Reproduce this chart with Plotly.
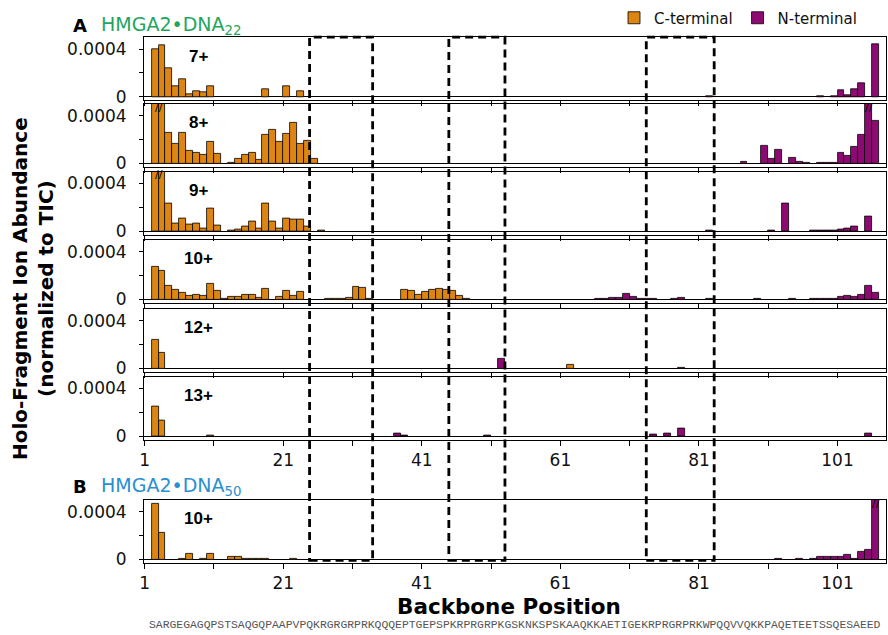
import plotly.graph_objects as go

OFF = 0
W, H = 888, 635

# ---------------- data (abundance normalized to TIC) ----------------
CLIP = 6.5e-4  # off-scale bars (drawn with break marks)

panel_names = ["7+", "8+", "9+", "10+", "12+", "13+", "10+"]

c7_pos = [2, 3, 4, 5, 6, 7, 8, 9, 10, 18, 21, 23]
c7_val = [4.0e-4, 4.3e-4, 2.4e-4, 0.9e-4, 1.5e-4, 0.2e-4, 0.45e-4, 0.35e-4, 0.9e-4, 0.6e-4, 0.9e-4, 0.47e-4]
n7_pos = [82, 98, 100, 101, 102, 103, 104, 106]
n7_val = [0.03e-4, 0.04e-4, 0.04e-4, 0.56e-4, 0.1e-4, 0.67e-4, 1.1e-4, 4.4e-4]

c8_pos = [2, 3, 4, 5, 6, 7, 8, 9, 10, 11, 13, 14, 15, 16, 17, 18, 19, 20, 21, 22, 23, 24, 25]
c8_val = [CLIP, CLIP, 2.55e-4, 1.67e-4, 2.6e-4, 1.05e-4, 0.9e-4, 0.7e-4, 1.8e-4, 0.83e-4,
          0.05e-4, 0.39e-4, 0.75e-4, 0.9e-4, 0.33e-4, 2.4e-4, 2.8e-4, 1.8e-4, 2.45e-4, 3.4e-4,
          1.64e-4, 1.86e-4, 0.39e-4]
n8_pos = [87, 90, 91, 92, 94, 95, 96, 98, 99, 100, 101, 102, 103, 104, 105, 106]
n8_val = [0.1e-4, 1.5e-4, 0.42e-4, 1.1e-4, 0.47e-4, 0.14e-4, 0.03e-4, 0.08e-4, 0.08e-4, 0.08e-4,
          0.92e-4, 0.64e-4, 1.4e-4, 2.36e-4, CLIP, 3.55e-4]

c9_pos = [2, 3, 4, 5, 6, 7, 8, 9, 10, 11, 13, 14, 15, 16, 17, 18, 19, 20, 21, 22, 23, 24, 26]
c9_val = [CLIP, CLIP, 2.3e-4, 0.64e-4, 1.05e-4, 0.56e-4, 0.64e-4, 0.25e-4, 1.86e-4, 0.5e-4,
          0.03e-4, 0.14e-4, 0.42e-4, 0.8e-4, 0.22e-4, 2.3e-4, 0.83e-4, 0.22e-4, 1.05e-4, 0.94e-4,
          1.0e-4, 0.39e-4, 0.03e-4]
n9_pos = [82, 91, 93, 97, 98, 99, 100, 101, 102, 103, 105]
n9_val = [0.03e-4, 0.08e-4, 2.3e-4, 0.03e-4, 0.03e-4, 0.05e-4, 0.05e-4, 0.1e-4, 0.17e-4, 0.36e-4, 1.2e-4]

c10_pos = [2, 3, 4, 5, 6, 7, 8, 9, 10, 11, 12, 13, 14, 15, 16, 17, 18, 20, 21, 22, 23,
           27, 28, 29, 30, 31, 32, 33, 38, 39, 40, 41, 42, 43, 44, 45, 46, 47]
c10_val = [2.7e-4, 2.4e-4, 1.17e-4, 0.78e-4, 0.56e-4, 0.28e-4, 0.36e-4, 0.28e-4, 1.28e-4, 0.7e-4,
           0.05e-4, 0.17e-4, 0.22e-4, 0.42e-4, 0.42e-4, 0.14e-4, 0.86e-4, 0.22e-4, 0.72e-4, 0.28e-4,
           0.64e-4, 0.03e-4, 0.03e-4, 0.03e-4, 0.14e-4, 1.03e-4, 0.94e-4, 0.05e-4, 0.83e-4, 0.72e-4,
           0.42e-4, 0.61e-4, 0.83e-4, 0.92e-4, 0.83e-4, 0.72e-4, 0.28e-4, 0.08e-4]
n10_pos = [66, 67, 68, 69, 70, 71, 72, 73, 74, 77, 78, 82, 89, 94, 97, 98, 99, 100,
           101, 102, 103, 104, 105, 106]
n10_val = [0.03e-4, 0.03e-4, 0.14e-4, 0.14e-4, 0.5e-4, 0.2e-4, 0.03e-4, 0.03e-4, 0.03e-4,
           0.05e-4, 0.12e-4, 0.03e-4, 0.03e-4, 0.05e-4, 0.03e-4, 0.03e-4, 0.03e-4, 0.03e-4,
           0.22e-4, 0.33e-4, 0.22e-4, 0.39e-4, 1.14e-4, 0.58e-4]

c12_pos = [2, 3, 62]
c12_val = [2.36e-4, 1.3e-4, 0.3e-4]
n12_pos = [52, 78]
n12_val = [0.83e-4, 0.06e-4]

c13_pos = [2, 3, 10]
c13_val = [2.45e-4, 1.33e-4, 0.03e-4]
n13_pos = [37, 38, 50, 74, 76, 78, 105]
n13_val = [0.19e-4, 0.06e-4, 0.05e-4, 0.14e-4, 0.22e-4, 0.67e-4, 0.22e-4]

cB_pos = [2, 3, 6, 7, 9, 10, 13, 14, 15, 16, 17, 18, 22]
cB_val = [4.7e-4, 2.25e-4, 0.05e-4, 0.5e-4, 0.05e-4, 0.5e-4, 0.25e-4, 0.22e-4,
          0.03e-4, 0.03e-4, 0.03e-4, 0.03e-4, 0.03e-4]
nB_pos = [92, 95, 97, 98, 99, 100, 101, 102, 103, 104, 105, 106]
nB_val = [0.03e-4, 0.05e-4, 0.03e-4, 0.22e-4, 0.22e-4, 0.22e-4, 0.22e-4, 0.36e-4,
          0.05e-4, 0.64e-4, 0.83e-4, CLIP]

c_pos = [c7_pos, c8_pos, c9_pos, c10_pos, c12_pos, c13_pos, cB_pos]
c_val = [c7_val, c8_val, c9_val, c10_val, c12_val, c13_val, cB_val]
n_pos = [n7_pos, n8_pos, n9_pos, n10_pos, n12_pos, n13_pos, nB_pos]
n_val = [n7_val, n8_val, n9_val, n10_val, n12_val, n13_val, nB_val]

x_tickvals = [1, 11, 21, 31, 41, 51, 61, 71, 81, 91, 101]
x_ticktext = ["1", "", "21", "", "41", "", "61", "", "81", "", "101"]
y_tickvals = [0, 0.0002, 0.0004]
y_ticktext = ["0", "", "0.0004"]

highlight_regions = [(24.8, 33.9), (44.9, 53.0), (73.4, 83.2)]

sequence = "SARGEGAGQPSTSAQGQPAAPVPQKRGRGRPRKQQQEPTGEPSPKRPRGRPKGSKNKSPSKAAQKKAETIGEKRPRGRPRKWPQQVVQKKPAQETEETSSQESAEED"

# ---------------- styling / layout ----------------
C_COLOR = "#DC8512"
N_COLOR = "#8E0A73"
GREEN = "#1FA65E"
BLUE = "#2A8FD0"
YMAX, YMIN = 0.0005, -0.00003
XMIN, XMAX = 0.9, 108.0

baselines_px = [96.7, 163.3, 231.0, 299.3, 368.3, 436.0, 559.3]
px_per_unit = 59.5 / YMAX


def py(y):
    return 1 - (y - OFF) / H


def px(x):
    return (x - OFF) / W


x_dom = [px(144), px(886)]

fig = go.Figure()
layout = dict(
    width=W, height=H,
    margin=dict(l=0, r=0, t=0, b=0),
    paper_bgcolor="white", plot_bgcolor="white",
    barmode="overlay", bargap=0,
    font=dict(family="DejaVu Sans", size=16, color="#111"),
    showlegend=True,
    legend=dict(orientation="h", x=px(862), xanchor="right", y=py(18), yanchor="middle",
                font=dict(family="DejaVu Sans", size=15, color="#111"),
                bgcolor="rgba(0,0,0,0)", itemwidth=30, tracegroupgap=0),
)


def ann(text, x, y, size, color="black", family="DejaVu Sans", **kw):
    d = dict(text=text, x=px(x), y=py(y), xref="paper", yref="paper", showarrow=False,
             xanchor="center", yanchor="middle",
             font=dict(family=family, size=size, color=color))
    d.update(kw)
    return d


annotations = []
for i in range(7):
    sfx = "" if i == 0 else str(i + 1)
    xa, ya = "x" + sfx, "y" + sfx
    base = baselines_px[i]
    top = base - YMAX * px_per_unit
    bot = base - YMIN * px_per_unit
    layout["xaxis" + sfx] = dict(
        domain=x_dom, anchor=ya, range=[XMIN, XMAX], showgrid=False, zeroline=False,
        showline=True, linecolor="black", linewidth=1, mirror=True,
        ticks="outside", ticklen=5, tickcolor="black",
        tickvals=x_tickvals, ticktext=x_ticktext,
        showticklabels=(i in (5, 6)),
        tickfont=dict(family="DejaVu Sans", size=17, color="#111"),
        automargin=False,
    )
    layout["yaxis" + sfx] = dict(
        domain=[py(bot), py(top)], anchor=xa, range=[YMIN, YMAX], showgrid=False,
        zeroline=True, zerolinecolor="black", zerolinewidth=1,
        showline=True, linecolor="black", linewidth=1, mirror=True,
        ticks="outside", ticklen=4, tickcolor="black",
        tickvals=y_tickvals, ticktext=y_ticktext, ticklabelstandoff=9,
        tickfont=dict(family="DejaVu Sans", size=17, color="#111"),
        automargin=False,
    )
    fig.add_trace(go.Bar(
        x=c_pos[i], y=c_val[i], width=1, offset=0, name="C-terminal",
        marker=dict(color=C_COLOR, line=dict(color="black", width=0.8)),
        xaxis=xa, yaxis=ya, legendgroup="C", showlegend=(i == 0),
    ))
    fig.add_trace(go.Bar(
        x=n_pos[i], y=n_val[i], width=1, offset=0, name="N-terminal",
        marker=dict(color=N_COLOR, line=dict(color="black", width=0.8)),
        xaxis=xa, yaxis=ya, legendgroup="N", showlegend=(i == 0),
    ))
    # charge-state label
    annotations.append(dict(text="<b>%s</b>" % panel_names[i], x=8.7, y=0.00034,
                            xref=xa, yref=ya, showarrow=False, xanchor="center", yanchor="middle",
                            font=dict(family="Liberation Sans", size=17, color="black")))
    # break marks on off-scale bars
    for pos_list, val_list in ((c_pos[i], c_val[i]), (n_pos[i], n_val[i])):
        clipped = [p for p, v in zip(pos_list, val_list) if v > YMAX]
        groups = []
        for p in clipped:
            if groups and p == groups[-1][-1] + 1:
                groups[-1].append(p)
            else:
                groups.append([p])
        for g in groups:
            annotations.append(dict(text="//", x=(g[0] + g[-1] + 1) / 2, y=0.000472,
                                    xref=xa, yref=ya, showarrow=False,
                                    xanchor="center", yanchor="middle",
                                    font=dict(family="DejaVu Sans", size=11, color="black")))

# panel titles, axis titles, sequence
annotations += [
    ann("<b>A</b>", 80, 25, 18),
    ann("HMGA2•DNA<sub>22</sub>", 99, 25, 19, GREEN, xanchor="left"),
    ann("<b>B</b>", 80, 487, 18),
    ann("HMGA2•DNA<sub>50</sub>", 99, 487, 19, BLUE, xanchor="left"),
    ann("<b>Holo-Fragment Ion Abundance<br>(normalized to TIC)</b>", 33, 289, 20, textangle=-90),
    ann("<b>Backbone Position</b>", 509, 606, 21.5),
    ann(sequence, 515, 625, 11.4, "#555", family="Liberation Mono"),
]
layout["annotations"] = annotations

# dashed highlight boxes
shapes = []
for x0, x1 in highlight_regions:
    shapes.append(dict(type="rect", xref="x", yref="paper", x0=x0, x1=x1,
                       y0=py(baselines_px[6] + 1), y1=py(baselines_px[0] - YMAX * px_per_unit),
                       line=dict(color="black", width=2.8, dash="8px,5px"),
                       fillcolor="rgba(0,0,0,0)", layer="above"))
layout["shapes"] = shapes

fig.update_layout(**layout)
fig.write_html("out.html", config={"displayModeBar": False},
               post_script="document.body.style.margin='0';document.body.style.overflow='hidden';")
